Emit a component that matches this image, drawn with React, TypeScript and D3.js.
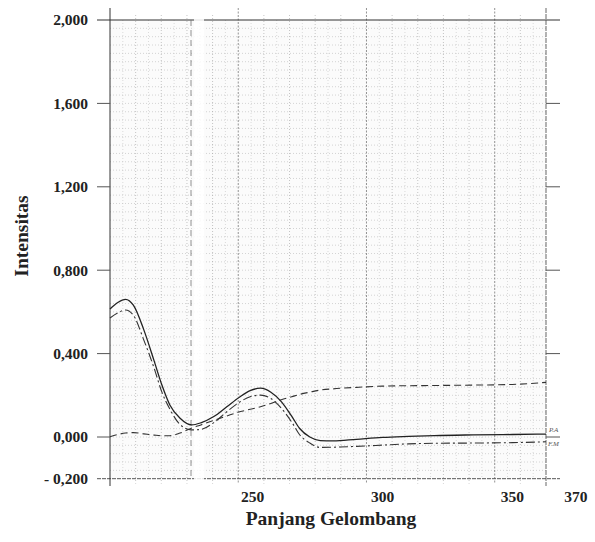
import React from "react";
import * as d3 from "d3";

// wavelength (nm)
const wavelength = [
  195, 198, 201, 204, 208, 212, 215, 218, 222, 226.5, 230, 235, 240, 245, 249,
  253, 257, 261, 265, 268, 272, 276, 281, 290, 300, 310, 320, 335, 350, 363,
];

// P.A (solid line)
const seriesPA = [
  0.614, 0.645, 0.66, 0.632, 0.515, 0.365, 0.249, 0.155, 0.09, 0.058, 0.068,
  0.098, 0.145, 0.192, 0.222, 0.234, 0.215, 0.17, 0.1, 0.042, 0.0, -0.017,
  -0.019, -0.011, -0.002, 0.003, 0.007, 0.01, 0.012, 0.014,
];

// F.M (dash-dot line)
const seriesFM = [
  0.571, 0.595, 0.609, 0.584, 0.466, 0.33, 0.215, 0.135, 0.06, 0.034, 0.036,
  0.069, 0.121, 0.168, 0.193, 0.201, 0.185, 0.138, 0.072, 0.012, -0.029,
  -0.05, -0.049, -0.045, -0.039, -0.033, -0.03, -0.029, -0.027, -0.023,
];

// third trace (dashed line)
const seriesDashed = [
  0.001, 0.012, 0.019, 0.021, 0.015, 0.009, 0.006, 0.006, 0.019, 0.043, 0.058,
  0.08, 0.101, 0.121, 0.133, 0.145, 0.161, 0.179, 0.193, 0.204, 0.215, 0.225,
  0.231, 0.238, 0.244, 0.246, 0.247, 0.249, 0.252, 0.262,
];

const yTicks = [2.0, 1.6, 1.2, 0.8, 0.4, 0.0, -0.2];
const yTickLabels = ["2,000", "1,600", "1,200", "0,800", "0,400", "0,000", "- 0,200"];
const xTicks = [250, 300, 350, 370];
const xTickLabels = ["250", "300", "350", "370"];

const W = 595;
const H = 542;
const left = 110;
const right = 546;
const top = 20;
const bottom = 478.7;

const font = "'Liberation Serif', 'Times New Roman', serif";

export default function App() {
  const x = d3.scaleLinear().domain([195, 363]).range([left, right]);
  const y = d3.scaleLinear().domain([-0.2, 2.0]).range([bottom, top]);
  // chart paper: 17 columns between the borders
  const gx = d3.scaleLinear().domain([0, 17]).range([left, right]);

  const line = (vals: number[]) =>
    d3
      .line<number>()
      .x((_, i) => x(wavelength[i]))
      .y((d) => y(d))
      .curve(d3.curveMonotoneX)(vals) || "";

  const colsFine = d3.range(0.5, 17, 0.5);
  const rows = d3.range(-0.16, 2.0, 0.04);

  return (
    <div style={{ position: "absolute", left: 0, top: 0 }}>
      <svg width={W} height={H} style={{ display: "block", background: "#fff" }}>
        <rect x={left} y={top} width={right - left} height={bottom - top} fill="#fbfbfb" />

        {/* paper grid */}
        {rows.map((v, i) => (
          <line
            key={"r" + i}
            x1={left}
            x2={right}
            y1={y(v)}
            y2={y(v)}
            stroke="#b8b8b8"
            strokeWidth={0.6}
            strokeDasharray="1,2"
          />
        ))}
        {colsFine.map((c, i) => {
          const whole = Number.isInteger(c);
          const major = whole && c % 5 === 0;
          return (
            <line
              key={"c" + i}
              x1={gx(c)}
              x2={gx(c)}
              y1={major ? top - 12 : whole ? top - 5 : top}
              y2={whole ? bottom + 5 : bottom}
              stroke={major ? "#777" : whole ? "#a0a0a0" : "#c4c4c4"}
              strokeWidth={major ? 0.8 : 0.6}
              strokeDasharray={major ? "2,1.5" : "1,2"}
            />
          );
        })}

        {/* frame */}
        <line x1={97} x2={560} y1={y(2.0)} y2={y(2.0)} stroke="#333" strokeWidth={1.2} />
        <line x1={97} x2={560} y1={y(-0.2)} y2={y(-0.2)} stroke="#555" strokeWidth={1} strokeDasharray="4,1" />
        <line x1={left} x2={left} y1={8} y2={486} stroke="#333" strokeWidth={1} />
        <line x1={right} x2={right} y1={8} y2={486} stroke="#555" strokeWidth={0.9} strokeDasharray="5,1" />
        {yTicks.slice(1, 6).map((v) => (
          <g key={"t" + v}>
            <line x1={97} x2={left} y1={y(v)} y2={y(v)} stroke="#555" strokeWidth={1} />
            <line x1={right} x2={560} y1={y(v)} y2={y(v)} stroke="#555" strokeWidth={1} />
          </g>
        ))}

        {/* scan fold */}
        <rect x={194} y={0} width={10} height={492} fill="#fff" opacity={0.85} />
        <line x1={191} x2={191} y1={top} y2={bottom} stroke="#777" strokeWidth={0.8} strokeDasharray="6,4" />

        {/* traces */}
        <path d={line(seriesDashed)} fill="none" stroke="#333" strokeWidth={1.1} strokeDasharray="7,4" />
        <path d={line(seriesFM)} fill="none" stroke="#333" strokeWidth={1.1} strokeDasharray="9,3,2,3" />
        <path d={line(seriesPA)} fill="none" stroke="#222" strokeWidth={1.3} />

        <text x={549} y={y(0.014) - 2} fontSize={7} fontStyle="italic" fill="#555" fontFamily={font}>
          P.A
        </text>
        <text x={548} y={y(-0.023) + 4} fontSize={7} fontStyle="italic" fill="#555" fontFamily={font}>
          F.M
        </text>

        {/* y labels */}
        {yTicks.map((v, i) => (
          <text
            key={"yl" + v}
            x={88}
            y={y(v)}
            dy="0.35em"
            textAnchor="end"
            fontFamily={font}
            fontWeight="bold"
            fontSize={15.5}
            fill="#222"
          >
            {yTickLabels[i]}
          </text>
        ))}

        {/* x labels */}
        {xTicks.map((v, i) => (
          <text
            key={"xl" + v}
            x={x(v)}
            y={502}
            textAnchor={v === 370 ? "start" : "middle"}
            fontFamily={font}
            fontWeight="bold"
            fontSize={15.5}
            fill="#222"
          >
            {xTickLabels[i]}
          </text>
        ))}

        <text
          x={331}
          y={525}
          textAnchor="middle"
          fontFamily={font}
          fontWeight="bold"
          fontSize={19.5}
          fill="#222"
        >
          Panjang Gelombang
        </text>
        <text
          transform="translate(28,236) rotate(-90)"
          textAnchor="middle"
          fontFamily={font}
          fontWeight="bold"
          fontSize={19.5}
          fill="#222"
        >
          Intensitas
        </text>
      </svg>
    </div>
  );
}
